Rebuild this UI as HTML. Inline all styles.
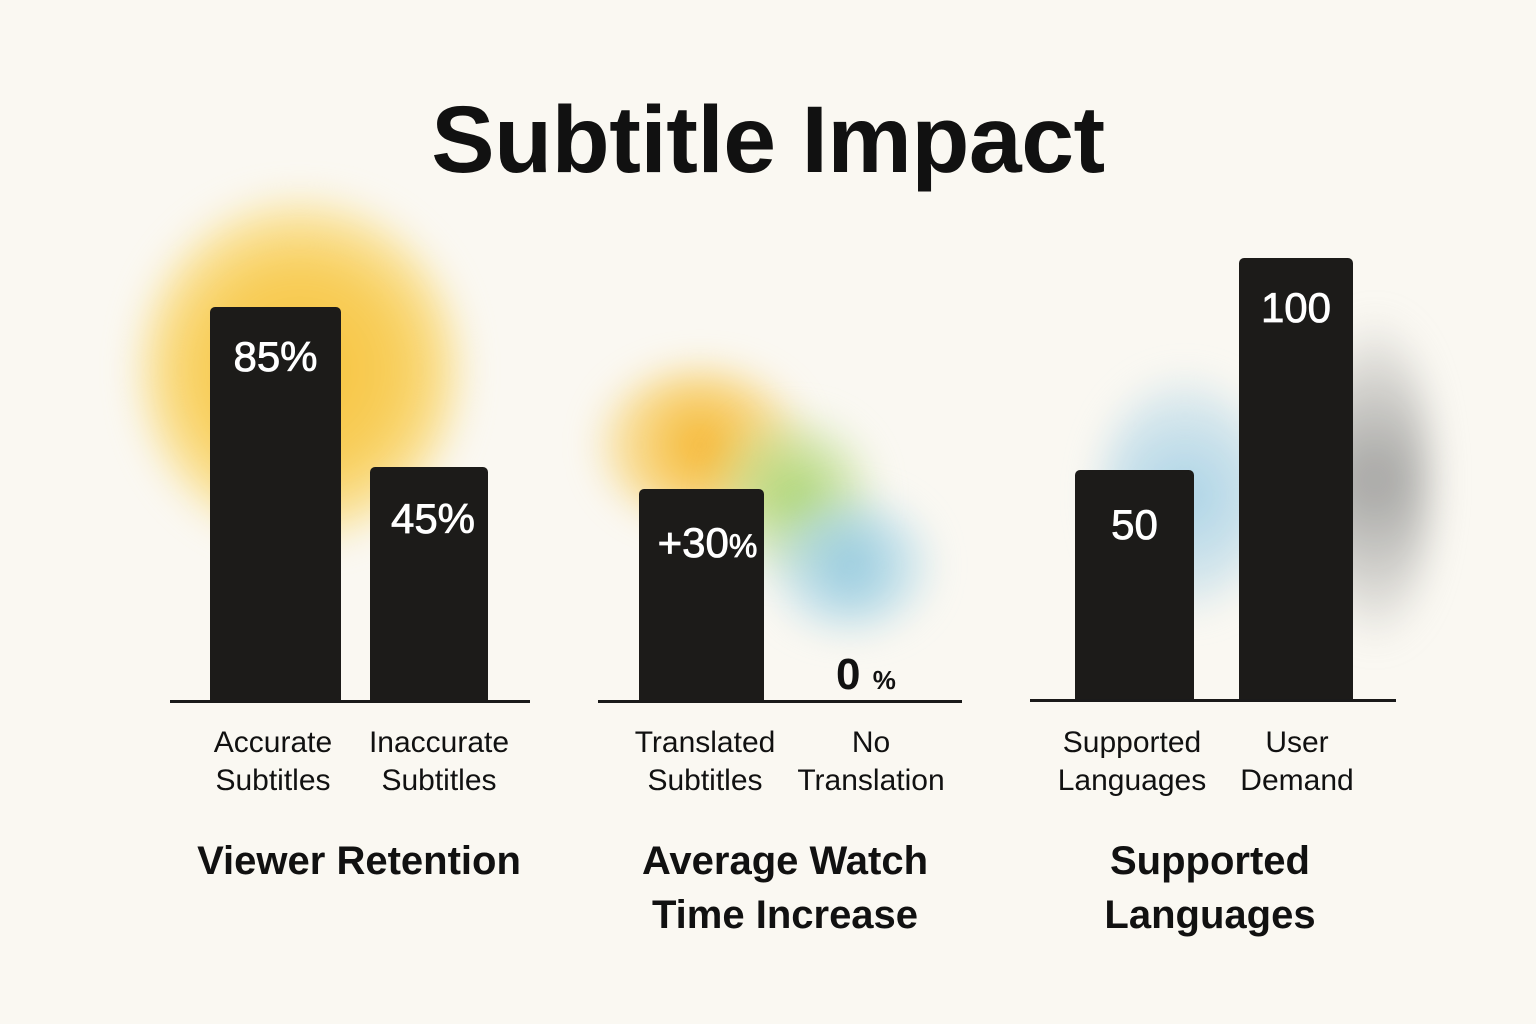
<!DOCTYPE html>
<html><head><style>
body{margin:0;width:1536px;height:1024px;background:#faf8f2;position:relative;overflow:hidden;font-family:"Liberation Sans",sans-serif;color:#111}
.blob{position:absolute;border-radius:50%;filter:blur(18px)}
.bar{position:absolute;background:#1c1b19;border-radius:5px 5px 0 0}
.v{position:absolute;color:#fff;font-size:42px;text-align:center;font-weight:500;-webkit-text-stroke:0.8px #fff}
.line{position:absolute;height:3px;background:#1a1a1a}
.lab{position:absolute;font-size:30px;text-align:center;line-height:38px;width:200px}
.gt{position:absolute;font-size:40px;font-weight:bold;text-align:center;line-height:54px;width:400px}
</style></head><body>
<div class="blob" style="left:140px;top:200px;width:320px;height:340px;background:radial-gradient(circle,#f7c23a 0%,#f8cf5e 45%,rgba(250,220,120,0.5) 70%,rgba(250,248,242,0) 100%)"></div>
<div class="blob" style="left:600px;top:370px;width:200px;height:150px;background:radial-gradient(circle,#f5b42a,rgba(247,200,80,0.6) 55%,rgba(250,248,242,0) 100%)"></div>
<div class="blob" style="left:720px;top:420px;width:150px;height:150px;background:radial-gradient(circle,#a6d36a,rgba(190,220,140,0.5) 55%,rgba(250,248,242,0) 100%)"></div>
<div class="blob" style="left:770px;top:500px;width:160px;height:130px;background:radial-gradient(circle,#8dc6dc,rgba(160,210,230,0.5) 55%,rgba(250,248,242,0) 100%)"></div>
<div class="blob" style="left:1100px;top:380px;width:170px;height:230px;background:radial-gradient(circle,#a9d2e6,rgba(170,210,230,0.5) 55%,rgba(250,248,242,0) 100%)"></div>
<div class="blob" style="left:1320px;top:320px;width:110px;height:320px;background:radial-gradient(circle,#a2a2a0,rgba(170,170,168,0.5) 55%,rgba(250,248,242,0) 100%)"></div>
<div style="position:absolute;left:0;width:1536px;top:86px;text-align:center;font-size:95px;font-weight:bold;letter-spacing:-0.5px">Subtitle Impact</div>

<div class="bar" style="left:210px;top:307px;width:131px;height:394px"></div>
<div class="v" style="left:210px;top:333px;width:131px">85%</div>
<div class="bar" style="left:370px;top:467px;width:118px;height:234px"></div>
<div class="v" style="left:370px;top:495px;width:126px">45%</div>
<div class="line" style="left:170px;top:700px;width:360px"></div>

<div class="bar" style="left:639px;top:489px;width:125px;height:212px"></div>
<div class="v" style="left:645px;top:519px;width:125px">+30<span style="font-size:32px">%</span></div>
<div style="position:absolute;left:836px;top:650px;font-size:44px;font-weight:bold">0 <span style="font-size:26px">%</span></div>
<div class="line" style="left:598px;top:700px;width:364px"></div>

<div class="bar" style="left:1075px;top:470px;width:119px;height:231px"></div>
<div class="v" style="left:1075px;top:501px;width:119px">50</div>
<div class="bar" style="left:1239px;top:258px;width:114px;height:443px"></div>
<div class="v" style="left:1239px;top:284px;width:114px">100</div>
<div class="line" style="left:1030px;top:699px;width:366px"></div>

<div class="lab" style="left:173px;top:724px">Accurate<br>Subtitles</div>
<div class="lab" style="left:339px;top:724px">Inaccurate<br>Subtitles</div>
<div class="lab" style="left:605px;top:724px">Translated<br>Subtitles</div>
<div class="lab" style="left:771px;top:724px">No<br>Translation</div>
<div class="lab" style="left:1032px;top:724px">Supported<br>Languages</div>
<div class="lab" style="left:1197px;top:724px">User<br>Demand</div>

<div class="gt" style="left:159px;top:834px">Viewer Retention</div>
<div class="gt" style="left:585px;top:834px">Average Watch<br>Time Increase</div>
<div class="gt" style="left:1010px;top:834px">Supported<br>Languages</div>
</body></html>
